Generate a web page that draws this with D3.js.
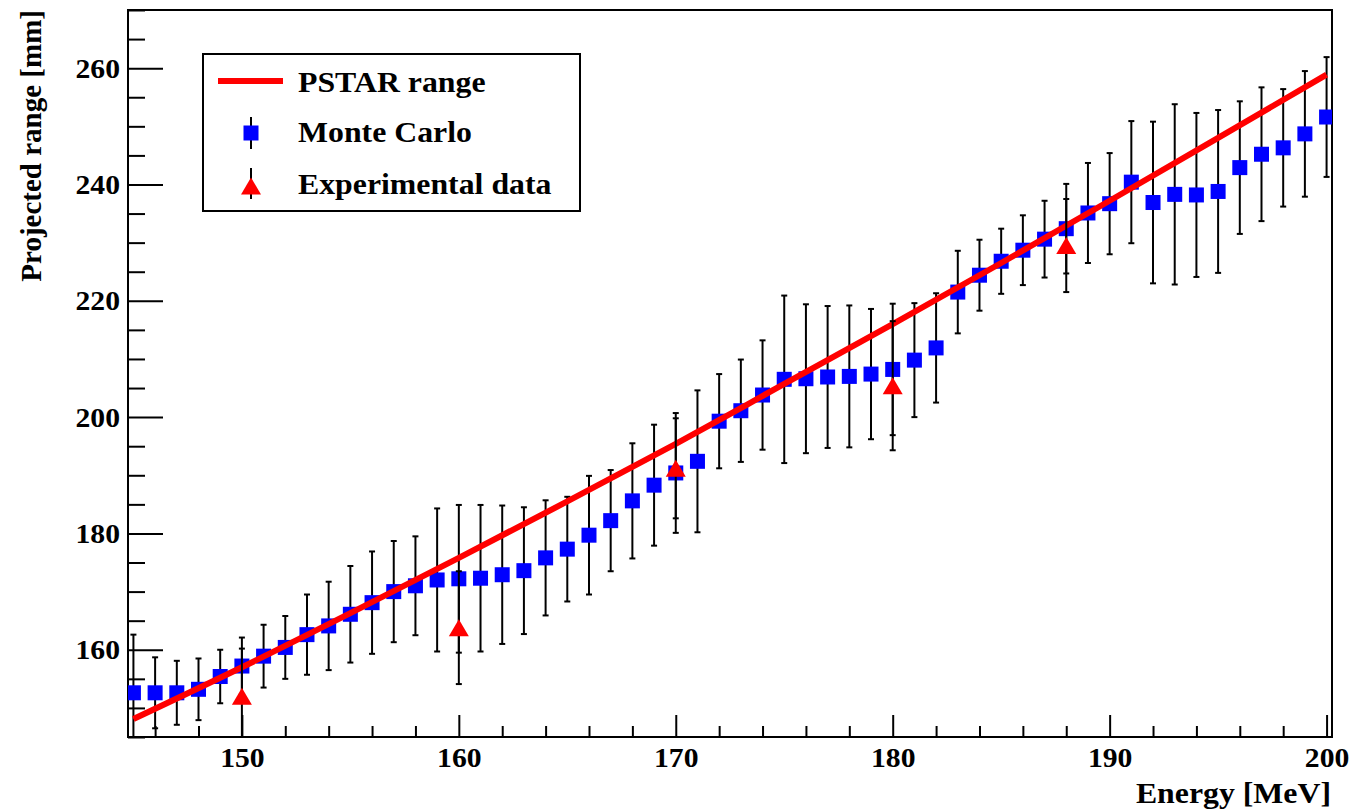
<!DOCTYPE html>
<html>
<head>
<meta charset="utf-8">
<script src="https://cdn.jsdelivr.net/npm/d3@7"></script>
<style>
  html, body { margin: 0; padding: 0; background: #fff; }
  svg { display: block; }
  text { font-family: "Liberation Serif", "Times New Roman", serif; font-weight: bold; fill: #000; }
</style>
</head>
<body>
<svg id="chart" width="1354" height="811"></svg>
<script>
// ---------------- data ----------------
const mcEnergy = [145,146,147,148,149,150,151,152,153,154,155,156,157,158,159,160,161,162,163,164,165,166,167,168,169,170,171,172,173,174,175,176,177,178,179,180,181,182,183,184,185,186,187,188,189,190,191,192,193,194,195,196,197,198,199,200];
const mcRange = [152.6,152.6,152.6,153.2,155.4,157.2,158.9,160.4,162.6,164.1,166.1,168.1,170.0,171.0,172.0,172.2,172.3,172.9,173.6,175.8,177.3,179.7,182.2,185.6,188.3,190.4,192.4,199.3,201.1,203.8,206.5,206.6,206.9,207.0,207.4,208.2,209.8,211.9,221.5,224.4,226.8,228.7,230.6,232.4,235.1,236.7,240.4,236.9,238.3,238.2,238.8,242.9,245.2,246.3,248.7,251.6];
const mcError = [10.0,6.1,5.5,5.3,4.6,4.9,5.4,5.4,6.9,7.6,8.3,8.8,8.7,8.5,12.3,12.7,12.6,11.9,10.9,9.9,9.0,10.2,8.7,9.9,10.4,10.3,12.2,8.1,8.8,9.4,14.4,12.8,12.2,12.2,11.2,11.3,9.8,9.4,7.1,6.1,5.6,6.0,6.6,7.7,8.6,8.7,10.5,13.9,15.5,14.1,14.0,11.4,11.5,10.1,10.8,10.3];

const expEnergy = [150,160,170,180,188];
const expRange = [152.0,163.8,191.2,205.4,229.5];
const expError = [8.2,9.7,8.6,11.1,8.0];

const pstarEnergy = [145,150,155,160,165,170,175,180,185,190,195,200];
const pstarRange = [148.1,157.0,166.3,175.8,185.5,195.4,205.7,216.0,226.5,237.2,248.0,258.9];

const xMajorTicks = [150,160,170,180,190,200];
const xMinorTicks = [146,148,152,154,156,158,162,164,166,168,172,174,176,178,182,184,186,188,192,194,196,198];
const yMajorTicks = [160,180,200,220,240,260];
const yMinorTicks = [145,150,155,165,170,175,185,190,195,205,210,215,225,230,235,245,250,255,265,270];

const legendLabels = ["PSTAR range","Monte Carlo","Experimental data"];
const xTitle = "Energy [MeV]";
const yTitle = "Projected range [mm]";

// ---------------- layout ----------------
const L = 128, R = 1332, T = 10, B = 737;
const SX = 1.06; // horizontal stretch of the reference's lettering
const svg = d3.select("#chart");
const x = d3.scaleLinear().domain([144.75, 200.25]).range([L, R]);
const y = d3.scaleLinear().domain([145, 270]).range([B, T]);

svg.append("defs").append("clipPath").attr("id","plotclip")
  .append("rect").attr("x", L).attr("y", T).attr("width", R - L).attr("height", B - T);

// axes
const fs = 28;
const gx = svg.append("g").attr("transform", `translate(0,${B})`)
  .call(d3.axisBottom(x).tickValues(xMajorTicks).tickSizeInner(-22).tickSizeOuter(0).tickPadding(10).tickFormat(d3.format("d")));
const gxm = svg.append("g").attr("transform", `translate(0,${B})`)
  .call(d3.axisBottom(x).tickValues(xMinorTicks).tickSizeInner(-11).tickSizeOuter(0).tickFormat(""));
const gy = svg.append("g").attr("transform", `translate(${L},0)`)
  .call(d3.axisLeft(y).tickValues(yMajorTicks).tickSizeInner(-35).tickSizeOuter(0).tickPadding(8).tickFormat(d3.format("d")));
const gym = svg.append("g").attr("transform", `translate(${L},0)`)
  .call(d3.axisLeft(y).tickValues(yMinorTicks).tickSizeInner(-17).tickSizeOuter(0).tickFormat(""));
[gx, gxm, gy, gym].forEach(g => {
  g.select(".domain").remove();
  g.selectAll(".tick line").attr("stroke", "#000").attr("stroke-width", 2);
  g.selectAll(".tick text").attr("font-size", fs).attr("fill", "#000")
    .style("font-family", '"Liberation Serif", serif').style("font-weight", "bold");
});
gx.selectAll(".tick text").attr("transform", `scale(${SX},1)`);
gy.selectAll(".tick text").attr("x", -8 / SX).attr("transform", `scale(${SX},1)`);

// frame
svg.append("rect").attr("x", L).attr("y", T).attr("width", R - L).attr("height", B - T)
  .attr("fill", "none").attr("stroke", "#000").attr("stroke-width", 2);

// titles
svg.append("text").attr("transform", `translate(1331,803) scale(${SX},1)`).attr("text-anchor", "end")
  .attr("font-size", 30).text(xTitle);
svg.append("text").attr("transform", `translate(41,10) rotate(-90)`).attr("text-anchor", "end")
  .attr("font-size", 29).text(yTitle);

const plot = svg.append("g").attr("clip-path", "url(#plotclip)");

// Monte Carlo error bars
const mc = mcEnergy.map((e, i) => ({e, v: mcRange[i], s: mcError[i]}));
const cap = 3;
const mcG = plot.append("g");
mc.forEach(d => {
  const g = mcG.append("g");
  g.append("line").attr("x1", x(d.e)).attr("x2", x(d.e)).attr("y1", y(d.v + d.s)).attr("y2", y(d.v - d.s))
    .attr("stroke", "#000").attr("stroke-width", 2);
  [d.v + d.s, d.v - d.s].forEach(v => g.append("line").attr("x1", x(d.e) - cap).attr("x2", x(d.e) + cap)
    .attr("y1", y(v)).attr("y2", y(v)).attr("stroke", "#000").attr("stroke-width", 2));
});
const sq = 15;
mcG.selectAll("rect.mc").data(mc).join("rect").attr("class","mc")
  .attr("x", d => x(d.e) - sq/2).attr("y", d => y(d.v) - sq/2).attr("width", sq).attr("height", sq)
  .attr("fill", "#0000ff");

// PSTAR line
const line = d3.line().curve(d3.curveMonotoneX).x(d => x(d[0])).y(d => y(d[1]));
plot.append("path").datum(pstarEnergy.map((e, i) => [e, pstarRange[i]]))
  .attr("d", line).attr("fill", "none").attr("stroke", "#ff0000").attr("stroke-width", 6);

// Experimental data
const ex = expEnergy.map((e, i) => ({e, v: expRange[i], s: expError[i]}));
const exG = plot.append("g");
ex.forEach(d => {
  exG.append("line").attr("x1", x(d.e)).attr("x2", x(d.e)).attr("y1", y(d.v + d.s)).attr("y2", y(d.v - d.s))
    .attr("stroke", "#000").attr("stroke-width", 2);
  [d.v + d.s, d.v - d.s].forEach(v => exG.append("line").attr("x1", x(d.e) - cap).attr("x2", x(d.e) + cap)
    .attr("y1", y(v)).attr("y2", y(v)).attr("stroke", "#000").attr("stroke-width", 2));
});
const tw = 10, th = 8.5;
const tri = (cx, cy) => `M${cx - tw},${cy + th}L${cx + tw},${cy + th}L${cx},${cy - th}Z`;
exG.selectAll("path.ex").data(ex).join("path").attr("class","ex")
  .attr("d", d => tri(x(d.e), y(d.v))).attr("fill", "#ff0000");

// legend
const lg = svg.append("g");
lg.append("rect").attr("x", 203).attr("y", 54).attr("width", 377).attr("height", 157)
  .attr("fill", "#fff").attr("stroke", "#000").attr("stroke-width", 2);
const rowsY = [81, 133, 186];
lg.append("line").attr("x1", 218).attr("x2", 283).attr("y1", rowsY[0]).attr("y2", rowsY[0])
  .attr("stroke", "#ff0000").attr("stroke-width", 6);
lg.append("line").attr("x1", 251).attr("x2", 251).attr("y1", rowsY[1] - 16).attr("y2", rowsY[1] + 16)
  .attr("stroke", "#000").attr("stroke-width", 2);
lg.append("rect").attr("x", 251 - sq/2).attr("y", rowsY[1] - sq/2).attr("width", sq).attr("height", sq).attr("fill", "#0000ff");
lg.append("line").attr("x1", 251).attr("x2", 251).attr("y1", rowsY[2] - 18).attr("y2", rowsY[2] + 13)
  .attr("stroke", "#000").attr("stroke-width", 2);
lg.append("path").attr("d", tri(251, rowsY[2])).attr("fill", "#ff0000");
legendLabels.forEach((t, i) => {
  lg.append("text").attr("transform", `translate(298,${[92, 142, 194][i]}) scale(${SX},1)`)
    .attr("font-size", 30).text(t);
});
</script>
</body>
</html>
